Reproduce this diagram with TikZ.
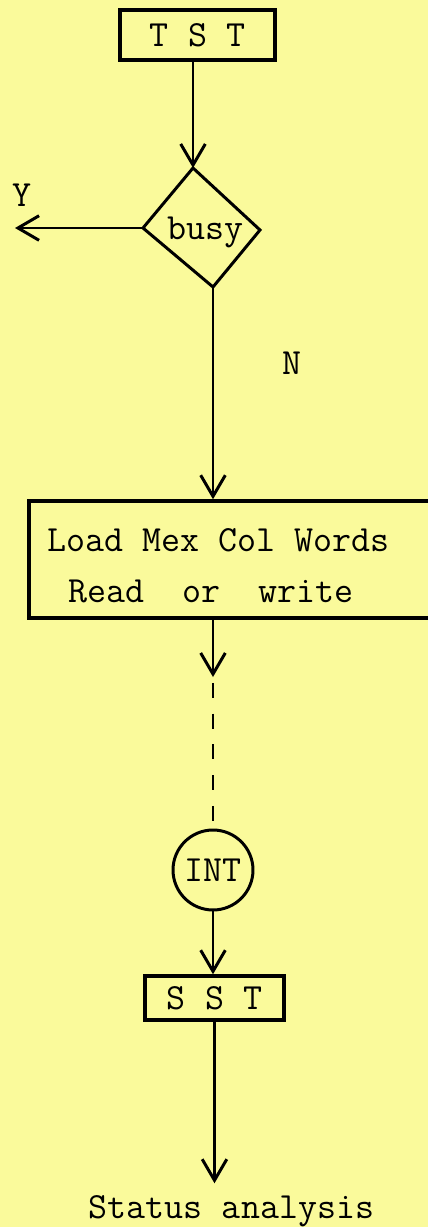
\documentclass[tikz,border=0pt]{standalone}
\usepackage{tikz}
\usetikzlibrary{arrows.meta}

\definecolor{paper}{RGB}{250,250,155}

\begin{document}
\begin{tikzpicture}[x=0.02cm,y=-0.02cm,
	flowline/.style={line width=1.7pt,-{Straight Barb[length=12pt,width=14pt,line width=1.7pt]}},
	box/.style={draw,rectangle,line width=2pt,inner sep=0pt},
	txt/.style={font=\fontsize{21}{25}\selectfont\ttfamily,inner sep=0pt}]

	% paper
	\fill[paper] (0,0) rectangle (428,1227);
	\useasboundingbox (0,0) rectangle (428,1227);

	\coordinate (dtop) at (193,168);
	\coordinate (dleft) at (143,228);
	\coordinate (dbot) at (213,287);
	\coordinate (dright) at (260,230);
	\coordinate (yend) at (15,228);
	\coordinate (dashtop) at (213,677);

	\node[box,txt,minimum width=3.1cm,minimum height=1cm] (tst) at (197.5,35) {T S T};

	% Draw the test diamond
	\draw[line width=1.7pt] (dtop) -- (dleft) -- (dbot) -- (dright) -- cycle;
	\node[txt] (busy) at (205,232) {busy};
	\node[txt] (ylab) at (22,195) {Y};
	\node[txt] (nlab) at (292,363) {N};

	\node[box,minimum width=8.22cm,minimum height=2.34cm] (load) at (234.5,559.5) {};
	\node[txt,anchor=base west] (line1) at (47,551) {Load Mex Col Words};
	\node[txt,anchor=base west] (line2) at (68,602) {Read~~or~~write};

	\node[draw,circle,line width=1.7pt,minimum size=1.6cm,txt] (int) at (213,870) {INT};
	\node[box,txt,minimum width=2.78cm,minimum height=0.88cm] (sst) at (214.5,998) {S S T};
	\node[txt,anchor=base] (status) at (231.5,1218) {Status analysis};

	% Draw the flow lines
	\draw[flowline] (dtop |- tst.south) -- (dtop);
	\draw[flowline] (dleft) -- (yend);
	\draw[flowline] (dbot) -- (dbot |- load.north);
	\draw[flowline] (load.south -| dashtop) -- (dashtop);
	\draw[line width=1.7pt,dash pattern=on 8.5pt off 9pt,shorten <=3.4pt] (dashtop) -- (int.north);
	\draw[flowline] (int.south) -- (int.south |- sst.north);
	\draw[flowline,shorten >=6.5pt] (sst.south) -- (sst.south |- status.north);
\end{tikzpicture}
\end{document}
